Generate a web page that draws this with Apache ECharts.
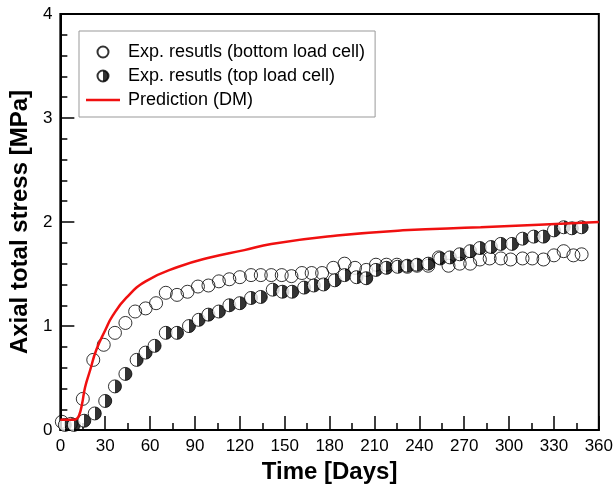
<!DOCTYPE html>
<html><head><meta charset="utf-8">
<script src="https://cdn.jsdelivr.net/npm/echarts@6/dist/echarts.min.js"></script>
<style>html,body{margin:0;padding:0;background:#fff}#c{width:616px;height:489px}</style>
</head><body><div id="c"></div>
<script>
// Exp. results (bottom load cell)
const bottomDays = [1,7,15,22,29,36.5,43.5,50,57,64,70.5,78,85,92,99,106,113,120,127.5,134,141,148,154.5,161.5,168,175,182.5,190,197,204.5,211,218,225,232,238.5,246,253,259.5,267,274,280.5,287,294.5,301,309,315.5,323,330,336.5,343,348.5];
const bottomStress = [0.08,0.06,0.30,0.675,0.82,0.935,1.03,1.14,1.17,1.22,1.32,1.30,1.33,1.38,1.39,1.43,1.45,1.47,1.49,1.49,1.49,1.49,1.48,1.51,1.51,1.51,1.56,1.60,1.56,1.54,1.59,1.59,1.59,1.57,1.58,1.58,1.66,1.58,1.60,1.60,1.64,1.65,1.65,1.64,1.65,1.65,1.64,1.68,1.72,1.68,1.69];
// Exp. results (top load cell)
const topDays = [3,9,16,23,30,36.5,43.5,51,57,63,70.5,78,86,92.5,99,106,113,120,127.5,134,142,148.5,155,163,169.5,176,183.5,190,198,204.5,211,218,225.5,232,238.5,246,254,260.5,267,274,280.5,288,294.5,302,309,316.5,323,330,336.5,342,348.5];
const topStress = [0.05,0.05,0.09,0.16,0.28,0.42,0.54,0.675,0.745,0.81,0.935,0.935,1.0,1.06,1.11,1.14,1.20,1.22,1.27,1.28,1.35,1.33,1.33,1.37,1.39,1.40,1.44,1.49,1.47,1.46,1.54,1.56,1.57,1.58,1.59,1.60,1.65,1.66,1.69,1.72,1.75,1.76,1.79,1.79,1.84,1.86,1.86,1.92,1.95,1.94,1.95];
// Prediction (DM)
const predDays = [0,5,9,11,12.5,14.5,16.5,20,24,30,35,44,57,79,100,123,141,185,229,281,320,360];
const predStress = [0.1,0.1,0.1,0.11,0.14,0.25,0.41,0.58,0.77,0.96,1.10,1.27,1.43,1.57,1.66,1.73,1.79,1.87,1.92,1.95,1.975,2.0];

const seriesNames = ['Exp. resutls (bottom load cell)','Exp. resutls (top load cell)','Prediction (DM)'];
const xTitle = 'Time [Days]';
const yTitle = 'Axial total stress [MPa]';

const zip = (a,b) => a.map((v,i)=>[v,b[i]]);
const F = '"Liberation Sans", Arial, Helvetica, sans-serif';
const halfFill = {type:'linear',x:0,y:0,x2:1,y2:0,colorStops:[
  {offset:0,color:'#fff'},{offset:0.5,color:'#fff'},{offset:0.5,color:'#000'},{offset:1,color:'#000'}]};

const axisCommon = {
  type:'value',
  nameLocation:'middle',
  nameTextStyle:{fontFamily:F,fontSize:24,fontWeight:'bold',color:'#000'},
  axisLine:{show:true,onZero:false,lineStyle:{color:'#000',width:2}},
  axisTick:{show:true,inside:true,length:14,lineStyle:{color:'#000',width:1.5}},
  axisLabel:{fontFamily:F,fontSize:17,color:'#000',margin:8},
  splitLine:{show:false}
};

const chart = echarts.init(document.getElementById('c'),null,{renderer:'canvas'});
chart.setOption({
  animation:false,
  backgroundColor:'#fff',
  grid:{left:53,right:17,top:14,bottom:56,show:true,borderColor:'#000',borderWidth:2,backgroundColor:'transparent'},
  xAxis:Object.assign({},axisCommon,{
    min:0,max:360,interval:30,name:xTitle,nameGap:26,
    minorTick:{show:true,splitNumber:2,length:7,lineStyle:{color:'#000',width:1.5}}
  }),
  yAxis:Object.assign({},axisCommon,{
    min:0,max:4,interval:1,name:yTitle,nameGap:22,
    minorTick:{show:true,splitNumber:5,length:7,lineStyle:{color:'#000',width:1.5}}
  }),
  legend:{
    orient:'vertical',left:79,top:31,
    itemWidth:34,itemHeight:11,itemGap:6,
    padding:[12,10,8,7],
    borderColor:'#999',borderWidth:1,backgroundColor:'#fff',
    textStyle:{fontFamily:F,fontSize:18,color:'#000',padding:[0,0,0,3]},
    data:[
      {name:seriesNames[0]},
      {name:seriesNames[1]},
      {name:seriesNames[2],icon:'path://M0,0h34v2.5h-34z'}
    ]
  },
  series:[
    {name:seriesNames[0],type:'scatter',data:zip(bottomDays,bottomStress),symbol:'circle',symbolSize:13,
     itemStyle:{color:'transparent',borderColor:'#000',borderWidth:1}},
    {name:seriesNames[1],type:'scatter',data:zip(topDays,topStress),symbol:'circle',symbolSize:13,
     itemStyle:{color:halfFill,borderColor:'#000',borderWidth:1}},
    {name:seriesNames[2],type:'line',data:zip(predDays,predStress),symbol:'none',smooth:0.5,
     lineStyle:{color:'#f01010',width:2.5},itemStyle:{color:'#f01010'},z:3}
  ]
});
</script></body></html>
